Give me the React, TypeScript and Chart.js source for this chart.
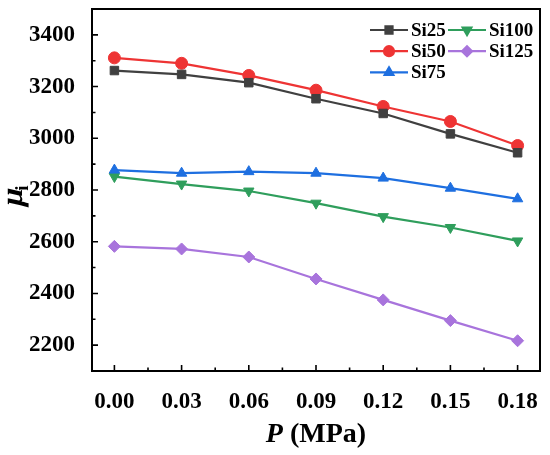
import React, { useRef, useEffect } from 'react';
import { Chart, registerables } from 'chart.js';
import { drawPoint } from 'chart.js/helpers';

Chart.register(...registerables);

// pressure (MPa) and initial permeability per sample
const pressure = [0, 0.03, 0.06, 0.09, 0.12, 0.15, 0.18];
const si25 = [3262, 3247, 3215, 3153, 3096, 3017, 2944];
const si50 = [3311, 3290, 3243, 3186, 3123, 3065, 2972];
const si75 = [2877, 2865, 2871, 2865, 2846, 2807, 2766];
const si100 = [2852, 2823, 2796, 2749, 2697, 2655, 2603];
const si125 = [2582, 2572, 2541, 2456, 2375, 2295, 2217];

const yTicks = [2200, 2400, 2600, 2800, 3000, 3200, 3400];
const yMinorTicks = [2300, 2500, 2700, 2900, 3100, 3300];
const xTicks = [0, 0.03, 0.06, 0.09, 0.12, 0.15, 0.18];
const xMinorTicks = [0.015, 0.045, 0.075, 0.105, 0.135, 0.165];

const FONT = "'Liberation Serif', 'Times New Roman', serif";

const series = [
  { label: 'Si25', data: si25, color: '#404040', style: 'rect', rotation: 0 },
  { label: 'Si50', data: si50, color: '#ee3434', style: 'circle', rotation: 0 },
  { label: 'Si75', data: si75, color: '#1e6fe0', style: 'triangle', rotation: 0 },
  { label: 'Si100', data: si100, color: '#2f9e5c', style: 'triangle', rotation: 180 },
  { label: 'Si125', data: si125, color: '#a874dc', style: 'rectRot', rotation: 0 },
];

// legend slots: [series index, column, row]
const legendSlots = [
  [0, 0, 0],
  [3, 1, 0],
  [1, 0, 1],
  [4, 1, 1],
  [2, 0, 2],
];

const noScalePadding = (scale: any) => {
  scale.paddingTop = 0;
  scale.paddingBottom = 0;
  scale.paddingLeft = 0;
  scale.paddingRight = 0;
};

const framePlugin = {
  id: 'frame',
  afterDraw(chart: any) {
    const { ctx, chartArea } = chart;
    const { left, right, top, bottom } = chartArea;
    const xs = chart.scales.x;
    const ys = chart.scales.y;
    ctx.save();
    ctx.strokeStyle = '#000';
    ctx.lineWidth = 1.6;
    ctx.beginPath();
    yTicks.forEach((v) => {
      const p = ys.getPixelForValue(v);
      ctx.moveTo(left, p);
      ctx.lineTo(left + 6, p);
    });
    yMinorTicks.forEach((v) => {
      const p = ys.getPixelForValue(v);
      ctx.moveTo(left, p);
      ctx.lineTo(left + 3.5, p);
    });
    xTicks.forEach((v) => {
      const p = xs.getPixelForValue(v);
      ctx.moveTo(p, bottom);
      ctx.lineTo(p, bottom - 6);
    });
    xMinorTicks.forEach((v) => {
      const p = xs.getPixelForValue(v);
      ctx.moveTo(p, bottom);
      ctx.lineTo(p, bottom - 3.5);
    });
    ctx.stroke();

    ctx.lineWidth = 2;
    ctx.strokeRect(left, top, right - left, bottom - top);

    // axis titles
    ctx.fillStyle = '#000';
    ctx.textBaseline = 'alphabetic';
    ctx.font = `italic bold 28px ${FONT}`;
    const pW = ctx.measureText('P').width;
    ctx.font = `bold 28px ${FONT}`;
    const restW = ctx.measureText(' (MPa)').width;
    const tx = (left + right) / 2 - (pW + restW) / 2;
    ctx.font = `italic bold 28px ${FONT}`;
    ctx.fillText('P', tx, 442);
    ctx.font = `bold 28px ${FONT}`;
    ctx.fillText(' (MPa)', tx + pW, 442);

    ctx.save();
    ctx.translate(22, 196);
    ctx.rotate(-Math.PI / 2);
    ctx.font = `bold 31px ${FONT}`;
    const muW = ctx.measureText('μ').width;
    ctx.font = `bold 19px ${FONT}`;
    const iW = ctx.measureText('i').width;
    const sx = -(muW + iW) / 2;
    ctx.save();
    ctx.transform(1, 0, -0.22, 1, 0, 0);
    ctx.font = `bold 31px ${FONT}`;
    ctx.fillText('μ', sx, 0);
    ctx.restore();
    ctx.font = `bold 19px ${FONT}`;
    ctx.fillText('i', sx + muW - 1, 6);
    ctx.restore();

    // legend
    ctx.font = `bold 19px ${FONT}`;
    ctx.textBaseline = 'middle';
    legendSlots.forEach(([si, col, row]) => {
      const s = series[si];
      const x0 = col === 0 ? 370 : 448;
      const y0 = 30 + row * 21.2;
      ctx.strokeStyle = s.color;
      ctx.fillStyle = s.color;
      ctx.lineWidth = 2.2;
      ctx.beginPath();
      ctx.moveTo(x0, y0);
      ctx.lineTo(x0 + 38, y0);
      ctx.stroke();
      drawPoint(ctx, { pointStyle: s.style, radius: 5, rotation: s.rotation, borderWidth: 1 }, x0 + 19, y0);
      ctx.fillStyle = '#000';
      ctx.fillText(s.label, x0 + 41, y0 + 1);
    });
    ctx.restore();
  },
};

export default function App() {
  const canvasRef = useRef<HTMLCanvasElement>(null);

  useEffect(() => {
    if (!canvasRef.current) return;
    const chart = new Chart(canvasRef.current, {
      type: 'line',
      data: {
        datasets: series.map((s) => ({
          label: s.label,
          data: s.data.map((v, i) => ({ x: pressure[i], y: v })),
          borderColor: s.color,
          backgroundColor: s.color,
          borderWidth: 2.2,
          pointStyle: s.style as any,
          pointRotation: s.rotation,
          pointRadius: 6,
          pointBorderWidth: 1,
          tension: 0,
        })),
      },
      options: {
        animation: false,
        responsive: false,
        layout: { padding: { left: 0, top: 9, right: 10, bottom: 0 } },
        plugins: { legend: { display: false }, tooltip: { enabled: false } },
        scales: {
          x: {
            type: 'linear',
            min: -0.01,
            max: 0.19,
            grid: { display: false },
            border: { display: false },
            afterFit: (scale: any) => { scale.height = 84; noScalePadding(scale); },
            afterBuildTicks: (scale: any) => { scale.ticks = xTicks.map((v) => ({ value: v })); },
            ticks: {
              padding: 9,
              color: '#000',
              font: { family: FONT, size: 23, weight: 'bold' },
              callback: (v: any) => Number(v).toFixed(2),
            },
          },
          y: {
            type: 'linear',
            min: 2100,
            max: 3500,
            grid: { display: false },
            border: { display: false },
            afterFit: (scale: any) => { scale.width = 92; noScalePadding(scale); },
            afterBuildTicks: (scale: any) => { scale.ticks = yTicks.map((v) => ({ value: v })); },
            ticks: {
              padding: 9,
              color: '#000',
              font: { family: FONT, size: 23, weight: 'bold' },
              callback: (v: any) => String(v),
            },
          },
        },
      },
      plugins: [framePlugin],
    });
    return () => chart.destroy();
  }, []);

  return (
    <div style={{ position: 'absolute', left: 0, top: 0, width: 550, height: 455, background: '#fff' }}>
      <canvas ref={canvasRef} width={550} height={455} />
    </div>
  );
}
